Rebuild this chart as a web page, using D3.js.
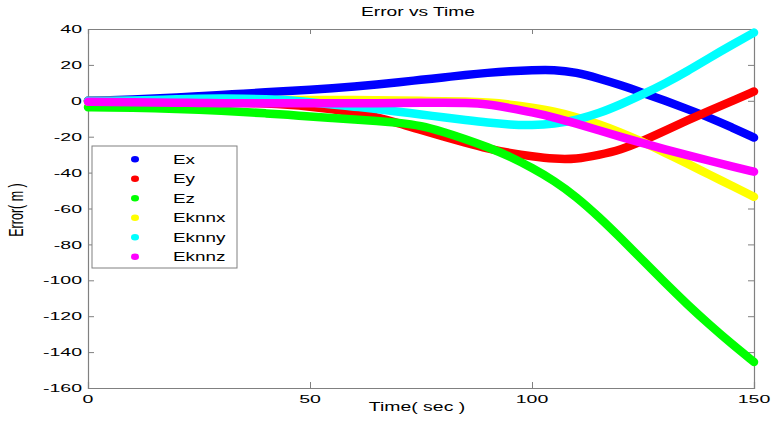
<!DOCTYPE html>
<html>
<head>
<meta charset="utf-8">
<script src="https://cdn.jsdelivr.net/npm/d3@7"></script>
<style>
  html, body { margin: 0; padding: 0; background: #fff; }
  svg { display: block; }
  text { font-family: "Liberation Sans", Arial, Helvetica, sans-serif; fill: #000; }
</style>
</head>
<body>
<svg id="chart" width="774" height="434"></svg>
<script>
// ---- data ----
const times = [0,5,10,15,20,25,30,35,40,45,50,55,60,65,70,75,80,85,90,95,100,105,110,115,120,125,130,135,140,145,150];
const ex    = [0,0.3,0.7,1.2,1.8,2.5,3.2,4,4.7,5.4,6.1,7,8,9.1,10.3,11.7,13,14.4,15.6,16.5,17.1,17.4,15.8,12.5,8.7,4.4,0,-4.6,-9.4,-14.8,-20.5];
const ey    = [0,0,-0.1,-0.2,-0.3,-0.5,-0.7,-1,-1.5,-2.2,-3.2,-4.6,-6.5,-9.2,-12.5,-16.3,-19.9,-23.3,-26.6,-29.1,-31,-32.4,-32.5,-30.2,-27.3,-22.3,-16.6,-10.9,-5.5,-0.2,5.2];
const ez    = [-3.6,-3.7,-3.9,-4.2,-4.6,-5,-5.5,-6.2,-7,-7.8,-8.8,-9.6,-10.4,-11.2,-12.2,-13.8,-17.3,-21.3,-25.7,-31,-37.3,-44.5,-53.5,-64.5,-76.5,-89,-101.5,-113.5,-124.8,-135.5,-145.5];
const eknnx = [-0.5,-0.4,-0.3,-0.2,-0.1,0,0.1,0.2,0.3,0.4,0.4,0.4,0.4,0.3,0.2,0,-0.2,-0.4,-0.9,-2.0,-3.8,-5.9,-9,-13,-17.6,-22.9,-29,-35,-41.2,-47.3,-53.5];
const eknny = [0,0,0.2,0.5,0.8,1.1,1.3,1.2,0.9,0.4,-0.8,-2,-3.3,-4.5,-6.1,-7.6,-9.2,-10.7,-12.2,-13.3,-13.6,-12.9,-10.7,-7.1,-2,3.6,9.7,16.5,24,31.1,38];
const eknnz = [-0.5,-0.6,-0.8,-1,-1.1,-1.2,-1.3,-1.4,-1.4,-1.4,-1.4,-1.4,-1.4,-1.3,-1.2,-1.1,-1,-1.2,-1.8,-4.1,-6.4,-9.2,-12.7,-16.4,-20.1,-23.6,-27.1,-30.3,-33.4,-36.5,-39.5];

const seriesNames  = ["Ex","Ey","Ez","Eknnx","Eknny","Eknnz"];
const seriesValues = [ex, ey, ez, eknnx, eknny, eknnz];
const seriesColors = ["#0000ff","#ff0000","#00ff00","#ffff00","#00ffff","#ff00ff"];

const xTicks = [0,50,100,150];
const yTicks = [40,20,0,-20,-40,-60,-80,-100,-120,-140,-160];

const titleText = "Error vs Time";
const xLabelText = "Time( sec )";
const yLabelText = "Error( m )";

// ---- layout ----
const L = 88, R = 754, T = 29, B = 388;
const SX = 1.7;          // horizontal stretch of the reference's text
const FS = 11.5;         // axis font size
const axisColor = "#808080";

const svg = d3.select("#chart");
const x = d3.scaleLinear().domain([0,150]).range([L,R]);
const y = d3.scaleLinear().domain([-160,40]).range([B,T]);

function stretchedText(g, tx, ty, str, anchor, size, sx, dy) {
  return g.append("text")
    .attr("transform", `translate(${tx},${ty}) scale(${sx},1)`)
    .attr("text-anchor", anchor)
    .attr("dy", dy || 0)
    .style("font-size", size + "px")
    .text(str);
}

// axes (ticks inward, box)
const gAx = svg.append("g");
gAx.append("g").attr("transform", `translate(0,${B})`)
  .call(d3.axisBottom(x).tickValues(xTicks).tickSize(-6).tickFormat(""));
gAx.append("g").attr("transform", `translate(0,${T})`)
  .call(d3.axisTop(x).tickValues(xTicks).tickSize(-5).tickFormat(""));
gAx.append("g").attr("transform", `translate(${L},0)`)
  .call(d3.axisLeft(y).tickValues(yTicks).tickSize(-6).tickFormat(""));
gAx.append("g").attr("transform", `translate(${R},0)`)
  .call(d3.axisRight(y).tickValues(yTicks).tickSize(-6).tickFormat(""));
gAx.selectAll(".domain").attr("stroke", axisColor).attr("stroke-width", 1.2);
gAx.selectAll(".tick line").attr("stroke", axisColor).attr("stroke-width", 1);

// tick labels
const gLab = svg.append("g");
yTicks.forEach(v => stretchedText(gLab, L - 6, y(v), String(v), "end", FS, SX, "0.36em"));
xTicks.forEach(v => stretchedText(gLab, x(v), B + 15, String(v), "middle", FS, SX, 0));

// series as thick marker trails
const line = d3.line().x((d,i) => x(times[i])).y(d => y(d)).curve(d3.curveBasis);
const gS = svg.append("g");
seriesValues.forEach((vals, k) => {
  gS.append("path")
    .attr("d", line(vals))
    .attr("fill", "none")
    .attr("stroke", seriesColors[k])
    .attr("stroke-width", 8.5)
    .attr("stroke-linecap", "round")
    .attr("stroke-linejoin", "round");
});

// title and axis labels
stretchedText(svg, 418, 16, titleText, "middle", 12, 1.6, 0);
stretchedText(svg, 417, 411, xLabelText, "middle", 12, 1.62, 0);
svg.append("text")
  .attr("transform", `translate(23,210) rotate(-90) scale(1,1.6)`)
  .attr("text-anchor", "middle")
  .style("font-size", "12.5px")
  .text(yLabelText);

// legend
const lg = svg.append("g");
lg.append("rect").attr("x", 92).attr("y", 146).attr("width", 145).attr("height", 122)
  .attr("fill", "#fff").attr("stroke", axisColor).attr("stroke-width", 1);
seriesNames.forEach((n, i) => {
  const cy = 159.3 + i * 19.5;
  lg.append("ellipse").attr("cx", 135).attr("cy", cy).attr("rx", 4).attr("ry", 3.2)
    .attr("fill", seriesColors[i]);
  stretchedText(lg, 173, cy, n, "start", 13, 1.45, "0.36em");
});
</script>
</body>
</html>
